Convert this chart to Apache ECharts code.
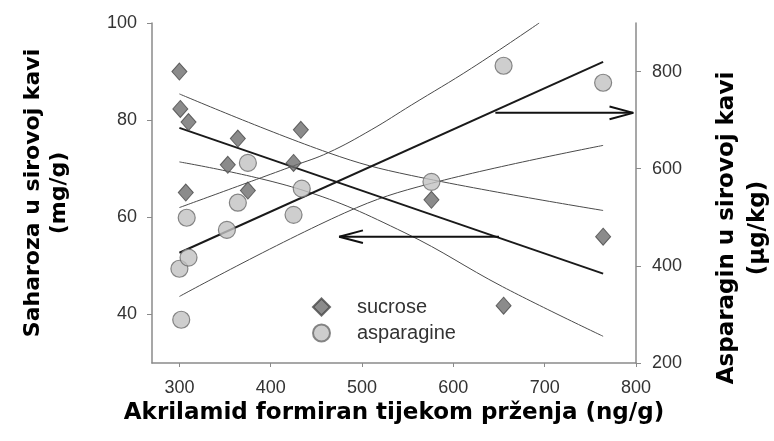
<!DOCTYPE html>
<html>
<head>
<meta charset="utf-8">
<script src="https://cdn.jsdelivr.net/npm/echarts@6/dist/echarts.min.js"></script>
<style>
  html, body { margin: 0; padding: 0; background: #fff; }
  #chart { width: 774px; height: 441px; }
</style>
</head>
<body>
<div id="chart"></div>
<script>
// measured points (acrylamide ng/g vs sucrose mg/g / asparagine ug/kg)
var sucroseX = [300, 301, 310, 307, 353, 364, 375, 425, 433, 576, 655, 764];
var sucrose = [90.0, 82.3, 79.6, 65.1, 70.8, 76.2, 65.5, 71.2, 78.0, 63.6, 41.8, 56.0];
var asparagineX = [300, 302, 308, 310, 352, 364, 375, 425, 434, 576, 655, 764];
var asparagine = [394, 289, 499, 417, 474, 530, 612, 505, 559, 573, 812, 777];

// regression lines and confidence bands
var sucroseFitX = [300, 764];
var sucroseFit = [78.4, 48.4];
var sucroseUpperX = [300, 463, 554, 764];
var sucroseUpper = [85.4, 73.3, 68.6, 61.4];
var sucroseLowerX = [300, 433, 547, 654, 764];
var sucroseLower = [71.4, 65.7, 56.8, 45.7, 35.5];
var asparagineFitX = [300, 764];
var asparagineFit = [427, 820];
var asparagineUpperX = [300, 425, 463, 510, 554, 620, 694];
var asparagineUpper = [520, 606, 633, 680, 731, 807, 900];
var asparagineLowerX = [300, 481, 576, 764];
var asparagineLower = [337, 509, 570, 648];

// arrows pointing to the axis each line belongs to
var arrowRightX = [646, 797];
var arrowRightY = [715, 715];
var arrowRightHeadX = [771, 797, 771];
var arrowRightHeadY = [728, 715, 702];
var arrowLeftX = [650, 475];
var arrowLeftY = [56.0, 56.0];
var arrowLeftHeadX = [501, 475, 501];
var arrowLeftHeadY = [57.3, 56.0, 54.7];

var xTicks = [300, 400, 500, 600, 700, 800];
var leftTicks = [40, 60, 80, 100];
var rightTicks = [200, 400, 600, 800];

function pairs(xs, ys){
    var out = [];
    for (var i = 0; i < xs.length; i++) {
        out.push([xs[i], ys[i]]);
    }
    return out;
}

function lineSeries(xs, ys, axis, width, color, smooth){
    return {
        type: 'line',
        yAxisIndex: axis,
        data: pairs(xs, ys),
        symbol: 'none',
        smooth: smooth,
        silent: true,
        lineStyle: { width: width, color: color },
        z: 2
    };
}

var titleFont = { fontFamily: 'DejaVu Sans', fontWeight: 'bold', fontSize: 22, color: '#000' };
var tickFont = { fontFamily: 'Liberation Sans', fontSize: 18, color: '#333' };
var axisGray = '#8a8a8a';

var chart = echarts.init(document.getElementById('chart'));
var option = {
    animation: false,
    // fixed plot box, names may sit outside it
    grid: { left: 152, right: 138, top: 23, bottom: 78, outerBoundsMode: 'none' },
    legend: {
        data: ['sucrose', 'asparagine'],
        orient: 'vertical',
        left: 307,
        top: 292,
        itemWidth: 17,
        itemHeight: 17,
        itemGap: 6,
        textStyle: { fontFamily: 'Liberation Sans', fontSize: 20, color: '#333', padding: [0, 0, 0, 22] }
    },
    xAxis: {
        type: 'value',
        min: 270,
        max: 800,
        name: 'Akrilamid formiran tijekom prženja (ng/g)',
        nameLocation: 'middle',
        nameGap: 36,
        nameTextStyle: Object.assign({}, titleFont, { fontSize: 23 }),
        splitLine: { show: false },
        axisLine: { lineStyle: { color: axisGray, width: 1.5 } },
        axisTick: { customValues: xTicks, length: 4, lineStyle: { color: axisGray } },
        axisLabel: Object.assign({ customValues: xTicks, margin: 16 }, tickFont)
    },
    yAxis: [
        {
            type: 'value',
            min: 30,
            max: 100,
            name: 'Saharoza u sirovoj kavi\n(mg/g)',
            nameLocation: 'middle',
            nameRotate: 90,
            nameGap: 80,
            nameTextStyle: Object.assign({ lineHeight: 26 }, titleFont),
            splitLine: { show: false },
            axisLine: { show: true, lineStyle: { color: axisGray, width: 1.5 } },
            axisTick: { show: true, customValues: leftTicks, length: 5, lineStyle: { color: axisGray } },
            axisLabel: Object.assign({ customValues: leftTicks, margin: 15 }, tickFont)
        },
        {
            type: 'value',
            position: 'right',
            min: 200,
            max: 900,
            name: 'Asparagin u sirovoj kavi\n(µg/kg)',
            nameLocation: 'middle',
            nameRotate: 90,
            nameGap: 76,
            nameTextStyle: Object.assign({ lineHeight: 31, padding: [0, 70, 0, 0] }, titleFont, { fontSize: 23 }),
            splitLine: { show: false },
            axisLine: { show: true, lineStyle: { color: axisGray, width: 1.5 } },
            axisTick: { show: true, customValues: rightTicks, length: 5, lineStyle: { color: axisGray } },
            axisLabel: Object.assign({ customValues: rightTicks, margin: 16 }, tickFont)
        }
    ],
    series: [
        lineSeries(sucroseUpperX, sucroseUpper, 0, 1, '#4a4a4a', 0.4),
        lineSeries(sucroseLowerX, sucroseLower, 0, 1, '#4a4a4a', 0.4),
        lineSeries(asparagineUpperX, asparagineUpper, 1, 1, '#4a4a4a', 0.4),
        lineSeries(asparagineLowerX, asparagineLower, 1, 1, '#4a4a4a', 0.4),
        lineSeries(sucroseFitX, sucroseFit, 0, 2, '#1a1a1a', false),
        lineSeries(asparagineFitX, asparagineFit, 1, 2, '#1a1a1a', false),
        lineSeries(arrowRightX, arrowRightY, 1, 2, '#111', false),
        lineSeries(arrowRightHeadX, arrowRightHeadY, 1, 2, '#111', false),
        lineSeries(arrowLeftX, arrowLeftY, 0, 2, '#111', false),
        lineSeries(arrowLeftHeadX, arrowLeftHeadY, 0, 2, '#111', false),
        {
            name: 'sucrose',
            type: 'scatter',
            yAxisIndex: 0,
            data: pairs(sucroseX, sucrose),
            symbol: 'diamond',
            symbolSize: [15, 17],
            itemStyle: { color: '#6e6e6e', borderColor: '#474747', borderWidth: 1 },
            z: 4
        },
        {
            name: 'asparagine',
            type: 'scatter',
            yAxisIndex: 1,
            data: pairs(asparagineX, asparagine),
            symbol: 'circle',
            symbolSize: 17,
            itemStyle: { color: '#c2c2c2', borderColor: '#6a6a6a', borderWidth: 1.2 },
            z: 4
        }
    ]
};
chart.setOption(option);
</script>
</body>
</html>
